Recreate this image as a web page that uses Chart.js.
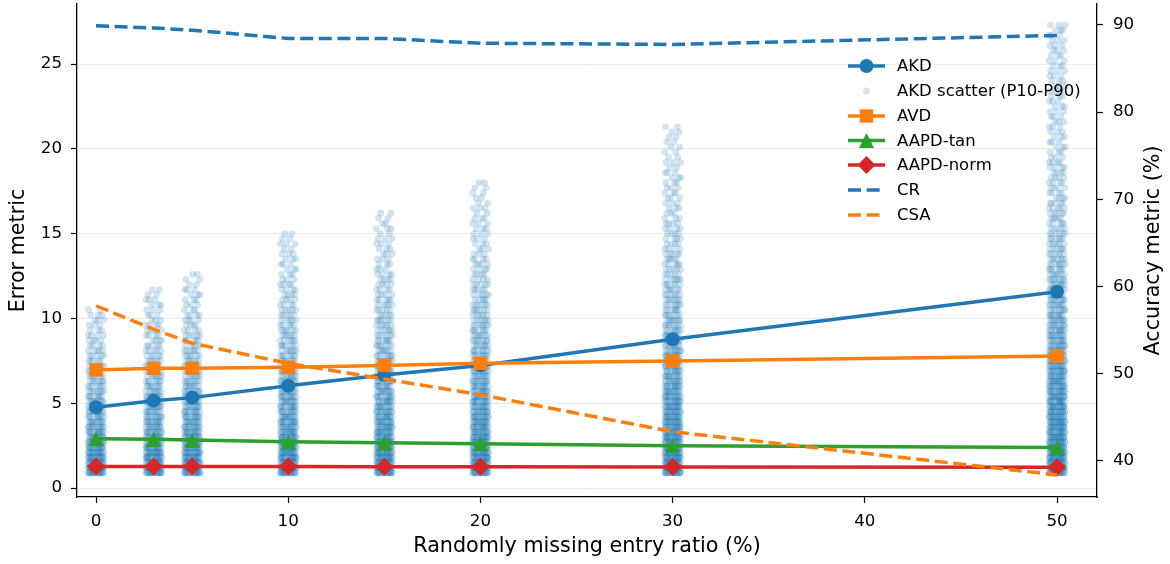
<!DOCTYPE html>
<html>
<head>
<meta charset="utf-8">
<script src="https://cdn.jsdelivr.net/npm/chart.js@4.4.1/dist/chart.umd.min.js"></script>
<style>
  html, body { margin: 0; padding: 0; background: #fff; }
  #wrap { width: 1170px; height: 564px; }
</style>
</head>
<body>
<div id="wrap"><canvas id="chart" width="1170" height="564"></canvas></div>
<script>
// x positions (missing entry ratio, %)
const ratios = [0, 3, 5, 10, 15, 20, 30, 50];

// error metrics (left axis)
const akd = [4.76, 5.15, 5.33, 6.03, 6.66, 7.22, 8.77, 11.57];
const avd = [6.96, 7.06, 7.06, 7.12, 7.23, 7.35, 7.49, 7.78];
const aapdTan = [2.90, 2.88, 2.83, 2.73, 2.67, 2.61, 2.49, 2.39];
const aapdNorm = [1.27, 1.27, 1.27, 1.27, 1.25, 1.25, 1.24, 1.22];

// accuracy metrics (right axis, %)
const cr = [89.9, 89.65, 89.4, 88.45, 88.45, 87.9, 87.76, 88.8];
const csa = [57.8, 55.1, 53.5, 51.2, 49.4, 47.6, 43.36, 38.4];

// AKD scatter: value levels and how many samples sit at each level per ratio
const scatterLevels = [0.9, 1.2, 1.5, 1.8, 2.1, 2.4, 2.7, 3.0, 3.3, 3.6, 3.9, 4.2, 4.5, 4.8, 5.1, 5.4, 5.7, 6.0, 6.3, 6.6,
  6.9, 7.2, 7.5, 7.8, 8.1, 8.4, 8.7, 9.0, 9.3, 9.6, 9.9, 10.2, 10.5, 10.8, 11.1, 11.4, 11.7, 12.0, 12.3, 12.6,
  12.9, 13.2, 13.5, 13.8, 14.1, 14.4, 14.7, 15.0, 15.3, 15.6, 15.9, 16.2, 16.5, 16.8, 17.1, 17.4, 17.7, 18.0, 18.3, 18.6,
  18.9, 19.2, 19.5, 19.8, 20.1, 20.4, 20.7, 21.0, 21.3, 21.6, 21.9, 22.2, 22.5, 22.8, 23.1, 23.4, 23.7, 24.0, 24.3, 24.6,
  24.9, 25.2, 25.5, 25.8, 26.1, 26.4, 26.7, 27.0, 27.3];
const countsAt0 = [20, 20, 19, 18, 17, 16, 15, 14, 13, 12, 11, 10, 10, 9, 9, 8, 8, 7, 7, 6,
  6, 6, 5, 5, 5, 4, 4, 4, 3, 3, 3, 3, 2];
const countsAt3 = [20, 20, 19, 18, 17, 16, 15, 14, 13, 12, 12, 11, 10, 10, 9, 9, 8, 8, 7, 7,
  6, 6, 6, 5, 5, 5, 4, 4, 4, 4, 3, 3, 3, 3, 3, 2, 2];
const countsAt5 = [20, 20, 19, 18, 17, 16, 16, 15, 14, 13, 12, 12, 11, 10, 10, 9, 9, 8, 8, 7,
  7, 7, 6, 6, 6, 5, 5, 5, 4, 4, 4, 4, 3, 3, 3, 3, 3, 2, 2, 2];
const countsAt10 = [20, 20, 19, 19, 18, 17, 17, 16, 15, 14, 14, 13, 12, 12, 11, 11, 10, 10, 9, 9,
  8, 8, 8, 7, 7, 7, 6, 6, 6, 5, 5, 5, 5, 4, 4, 4, 4, 4, 3, 3, 3, 3, 3, 3, 2, 3, 2, 2];
const countsAt15 = [20, 20, 19, 19, 18, 18, 17, 16, 16, 15, 14, 14, 13, 12, 12, 11, 11, 10, 10, 9,
  9, 9, 8, 8, 7, 7, 7, 6, 6, 6, 6, 5, 5, 5, 5, 4, 4, 4, 4, 4, 3, 3, 3, 3, 3, 3, 3, 2, 3, 2, 2, 2];
const countsAt20 = [20, 20, 20, 19, 19, 18, 18, 17, 16, 16, 15, 15, 14, 13, 13, 12, 12, 11, 11, 10,
  10, 9, 9, 9, 8, 8, 8, 7, 7, 7, 6, 6, 6, 6, 5, 5, 5, 5, 4, 4, 4, 4, 4, 3, 3, 3, 3, 3, 3, 3,
  3, 2, 3, 2, 2, 2, 2, 2];
const countsAt30 = [20, 20, 20, 20, 19, 19, 18, 18, 17, 17, 16, 16, 15, 15, 14, 14, 13, 13, 12, 12,
  11, 11, 11, 10, 10, 9, 9, 9, 8, 8, 8, 7, 7, 7, 7, 6, 6, 6, 6, 5, 5, 5, 5, 5, 4, 4, 4, 4, 4, 4,
  3, 3, 3, 3, 3, 3, 3, 3, 3, 3, 2, 3, 2, 2, 2, 2, 2, 2, 2];
const countsAt50 = [20, 20, 20, 20, 20, 19, 19, 19, 18, 18, 18, 17, 17, 17, 16, 16, 15, 15, 15, 14,
  14, 13, 13, 13, 12, 12, 11, 11, 11, 10, 10, 10, 9, 9, 9, 8, 8, 8, 8, 7, 7, 7, 7, 6, 6, 6, 6, 6, 5, 5,
  5, 5, 5, 5, 4, 4, 4, 4, 4, 4, 4, 4, 3, 3, 3, 3, 3, 3, 3, 3, 3, 3, 3, 3, 3, 3, 3, 3, 3, 3,
  3, 3, 3, 3, 3, 3, 3, 3, 3];
const scatterCounts = [countsAt0, countsAt3, countsAt5, countsAt10, countsAt15, countsAt20, countsAt30, countsAt50];
// horizontal jitter (in ratio units) cycled over the scatter samples
const jitter = [-0.05, 0.31, -0.27, 0.12, -0.38, 0.22, -0.14, 0.40, -0.33, 0.03, 0.27, -0.21,
  0.16, -0.41, 0.36, -0.09, 0.08, -0.30, 0.19, -0.18, 0.34, -0.02, -0.36, 0.25, -0.11,
  0.38, -0.24, 0.06, -0.40, 0.14, -0.29, 0.29, -0.07, 0.21, -0.35, 0.10, 0.42];

// tick labels
const xTicks = [0, 10, 20, 30, 40, 50];
const errorTicks = [0, 5, 10, 15, 20, 25];
const accuracyTicks = [40, 50, 60, 70, 80, 90];

const BLUE = '#1f77b4', ORANGE = '#ff7f0e', GREEN = '#2ca02c', RED = '#d62728';
const FONT = 'DejaVu Sans';
const DOT = 'rgba(31,119,180,0.2)';

function pts(ys) {
    return ratios.map((x, i) => ({x: x, y: ys[i]}));
}

const scatterPoints = [];
let j = 0;
ratios.forEach((r, i) => {
    scatterCounts[i].forEach((n, k) => {
        for (let m = 0; m < n; m++) {
            scatterPoints.push({x: r + jitter[j % jitter.length], y: scatterLevels[k]});
            j++;
        }
    });
});

// matplotlib-like up triangle marker
function triangleMarker(size, color) {
    const c = document.createElement('canvas');
    c.width = size;
    c.height = size;
    const g = c.getContext('2d');
    g.fillStyle = color;
    g.beginPath();
    g.moveTo(size / 2, 0);
    g.lineTo(size, size);
    g.lineTo(0, size);
    g.closePath();
    g.fill();
    return c;
}
const triangle = triangleMarker(15, GREEN);

function lineSet(label, data, color, style, radius, order) {
    return {
        type: 'line', label: label, data: pts(data), yAxisID: 'yErr',
        borderColor: color, backgroundColor: color, borderWidth: 3.5,
        pointStyle: style, pointRadius: radius, pointHoverRadius: radius,
        pointBorderWidth: 0, tension: 0, order: order
    };
}

function dashSet(label, data, color, order) {
    return {
        type: 'line', label: label, data: pts(data), yAxisID: 'yAcc',
        borderColor: color, borderWidth: 3.5, borderDash: [13, 5.6],
        pointRadius: 0, tension: 0, order: order
    };
}

// legend drawn inside the plot without frame
const legendPlugin = {
    id: 'insideLegend',
    afterDraw(chart) {
        const ctx = chart.ctx;
        const x0 = 848, x1 = 885, xm = 866.5, tx = 897;
        const rows = [66, 91, 116, 140.5, 165, 190, 215];
        ctx.save();
        ctx.lineWidth = 3.5;
        ctx.lineCap = 'butt';
        // AKD
        ctx.strokeStyle = BLUE; ctx.fillStyle = BLUE;
        ctx.beginPath(); ctx.moveTo(x0, rows[0]); ctx.lineTo(x1, rows[0]); ctx.stroke();
        ctx.beginPath(); ctx.arc(xm, rows[0], 7, 0, Math.PI * 2); ctx.fill();
        // scatter
        ctx.fillStyle = DOT;
        ctx.beginPath(); ctx.arc(xm, rows[1], 3.4, 0, Math.PI * 2); ctx.fill();
        // AVD
        ctx.strokeStyle = ORANGE; ctx.fillStyle = ORANGE;
        ctx.beginPath(); ctx.moveTo(x0, rows[2]); ctx.lineTo(x1, rows[2]); ctx.stroke();
        ctx.fillRect(xm - 6.7, rows[2] - 6.7, 13.4, 13.4);
        // AAPD-tan
        ctx.strokeStyle = GREEN;
        ctx.beginPath(); ctx.moveTo(x0, rows[3]); ctx.lineTo(x1, rows[3]); ctx.stroke();
        ctx.drawImage(triangle, xm - 7.5, rows[3] - 7.5);
        // AAPD-norm
        ctx.strokeStyle = RED; ctx.fillStyle = RED;
        ctx.beginPath(); ctx.moveTo(x0, rows[4]); ctx.lineTo(x1, rows[4]); ctx.stroke();
        ctx.beginPath();
        ctx.moveTo(xm, rows[4] - 9); ctx.lineTo(xm + 9, rows[4]);
        ctx.lineTo(xm, rows[4] + 9); ctx.lineTo(xm - 9, rows[4]);
        ctx.closePath(); ctx.fill();
        // CR, CSA
        ctx.setLineDash([13, 5.6]);
        ctx.strokeStyle = BLUE;
        ctx.beginPath(); ctx.moveTo(x0, rows[5]); ctx.lineTo(x1, rows[5]); ctx.stroke();
        ctx.strokeStyle = ORANGE;
        ctx.beginPath(); ctx.moveTo(x0, rows[6]); ctx.lineTo(x1, rows[6]); ctx.stroke();
        ctx.setLineDash([]);
        // labels
        ctx.fillStyle = '#000';
        ctx.font = '16.5px "' + FONT + '"';
        ctx.textBaseline = 'middle';
        ctx.textAlign = 'left';
        const labels = ['AKD', 'AKD scatter (P10-P90)', 'AVD', 'AAPD-tan', 'AAPD-norm', 'CR', 'CSA'];
        labels.forEach((t, i) => ctx.fillText(t, tx, rows[i] + 1));
        // right axis title, reading bottom to top
        const area = chart.chartArea;
        ctx.font = '20.7px "' + FONT + '"';
        ctx.textAlign = 'center';
        ctx.translate(1154, (area.top + area.bottom) / 2);
        ctx.rotate(-Math.PI / 2);
        ctx.fillText('Accuracy metric (%)', 0, 0);
        ctx.restore();
    }
};

const ctx = document.getElementById('chart').getContext('2d');
const chart = new Chart(ctx, {
    type: 'scatter',
    data: {
        datasets: [
            {
                type: 'scatter', label: 'AKD scatter (P10-P90)', data: scatterPoints, yAxisID: 'yErr',
                backgroundColor: DOT, borderWidth: 0, pointRadius: 3.4, pointHoverRadius: 3.4, order: 10
            },
            lineSet('AKD', akd, BLUE, 'circle', 7, 6),
            lineSet('AVD', avd, ORANGE, 'rect', 9.5, 5),
            lineSet('AAPD-tan', aapdTan, GREEN, triangle, 7.5, 4),
            lineSet('AAPD-norm', aapdNorm, RED, 'rectRot', 9, 3),
            dashSet('CR', cr, BLUE, 2),
            dashSet('CSA', csa, ORANGE, 1)
        ]
    },
    options: {
        responsive: false,
        animation: false,
        devicePixelRatio: 1,
        layout: { autoPadding: false, padding: { top: 4, left: 0, right: 0, bottom: 0 } },
        plugins: {
            legend: { display: false },
            tooltip: { enabled: false }
        },
        scales: {
            x: {
                type: 'linear', position: 'bottom', min: -0.99, max: 52.08,
                afterBuildTicks: (s) => { s.ticks = xTicks.map(v => ({value: v})); },
                afterFit: (s) => { s.height = 67; s.paddingLeft = 0; s.paddingRight = 0; },
                grid: { drawOnChartArea: false, drawTicks: true, tickLength: 6, tickColor: '#000', tickWidth: 1.2 },
                border: { display: true, color: '#000', width: 1.3 },
                ticks: { color: '#000', padding: 9, font: { family: FONT, size: 16.7 } },
                title: {
                    display: true, text: 'Randomly missing entry ratio (%)', color: '#000',
                    font: { family: FONT, size: 20.7 }, padding: { top: 0, bottom: 4.5 }
                }
            },
            yErr: {
                type: 'linear', position: 'left', min: -0.53, max: 28.54,
                afterBuildTicks: (s) => { s.ticks = errorTicks.map(v => ({value: v})); },
                afterFit: (s) => { s.width = 77; s.paddingTop = 0; s.paddingBottom = 0; },
                grid: { color: '#ebebeb', lineWidth: 1, drawTicks: true, tickLength: 6, tickColor: '#000', tickWidth: 1.2 },
                border: { display: true, color: '#000', width: 1.3 },
                ticks: { color: '#000', padding: 9, font: { family: FONT, size: 16.7 } },
                title: {
                    display: true, text: 'Error metric', color: '#000',
                    font: { family: FONT, size: 20.7 }, padding: { top: 6.5, bottom: 0 }
                }
            },
            yAcc: {
                type: 'linear', position: 'right', min: 35.87, max: 92.4,
                afterBuildTicks: (s) => { s.ticks = accuracyTicks.map(v => ({value: v})); },
                afterFit: (s) => { s.width = 73; s.paddingTop = 0; s.paddingBottom = 0; },
                grid: { drawOnChartArea: false, drawTicks: true, tickLength: 6, tickColor: '#000', tickWidth: 1.2 },
                border: { display: true, color: '#000', width: 1.3 },
                ticks: { color: '#000', padding: 10, font: { family: FONT, size: 16.7 } }
            }
        }
    },
    plugins: [legendPlugin]
});
</script>
</body>
</html>
